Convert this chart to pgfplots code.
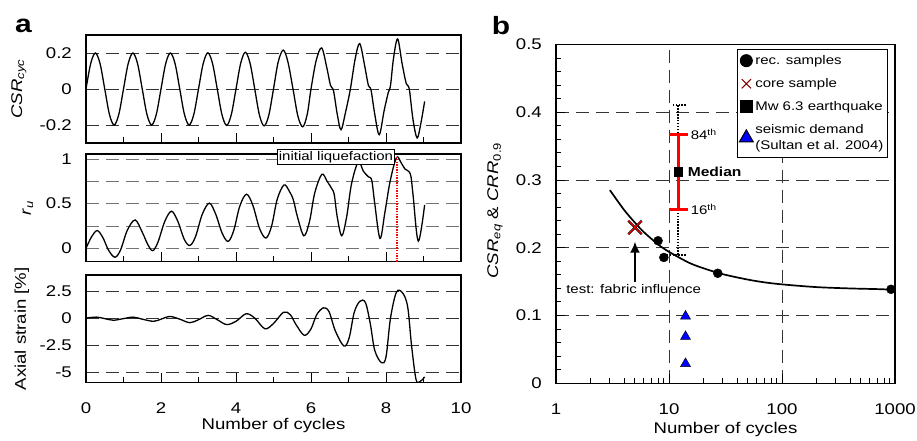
\documentclass[border=0pt]{standalone}
\usepackage{fontspec}
\setmainfont{Liberation Sans}[FakeStretch=1.2]
\usepackage{pgfplots}
\pgfplotsset{compat=1.18}
\usetikzlibrary{arrows.meta}
\tikzset{lab/.style={font=\fontsize{15.5}{17}\selectfont}}
\begin{document}
\begin{tikzpicture}
\useasboundingbox (0pt,0pt) rectangle (917pt,440pt);
\pgfplotsset{
  base/.style={scale only axis, anchor=south west,
    axis line style={line width=1.3pt}, tick style={black, line width=1pt},
    tick align=inside, clip mode=individual,
    /pgf/number format/assume math mode=true,
    ticklabel style={font=\fontsize{15.5}{17}\selectfont},
    yticklabel style={anchor=east, inner sep=0pt, xshift=-14pt},
    xticklabel style={anchor=north, inner sep=0pt, yshift=-20pt},
    grid style={dash pattern=on 13pt off 7pt, line width=0.8pt, black!80},
  },
  lp/.style={base, width=375pt, height=107.7pt, xmin=0, xmax=10,
    xtick={0,2,...,10}, minor xtick={1,3,...,9},
    major tick length=10pt, minor tick length=6pt,
    xtick pos=left, ytick style={draw=none}, ymajorgrids,
  },
}
% ---- top panel: CSR_cyc
\begin{axis}[lp, at={(86pt,297pt)}, height=108pt, ymin=-0.3, ymax=0.3,
  ytick={-0.2,0,0.2}, xticklabels={},
  every axis y label/.style={lab, at={(axis description cs:-0.179,0.5)}, rotate=90, anchor=center},
  ylabel={\textit{CSR}\textsubscript{\textit{cyc}}}]
\addplot[black, line width=1.3pt, smooth, tension=0.55] coordinates {
(0,0)(0.125,0.141)(0.25,0.2)(0.375,0.141)(0.5,0)(0.625,-0.141)(0.75,-0.2)(0.875,-0.141)
(1,0)(1.125,0.141)(1.25,0.2)(1.375,0.141)(1.5,0)(1.625,-0.141)(1.75,-0.2)(1.875,-0.141)
(2,0)(2.125,0.141)(2.25,0.2)(2.375,0.141)(2.5,0)(2.625,-0.141)(2.75,-0.2)(2.875,-0.141)
(3,0)(3.125,0.141)(3.25,0.201)(3.375,0.141)(3.5,0)(3.625,-0.142)(3.75,-0.202)(3.875,-0.142)
(4,0)(4.125,0.143)(4.25,0.204)(4.375,0.143)(4.5,0)(4.625,-0.145)(4.75,-0.205)(4.875,-0.145)
(5,0)(5.125,0.15)(5.26,0.216)(5.385,0.15)(5.52,0)(5.65,-0.15)(5.78,-0.21)(5.9,-0.14)
(6,0)(6.14,0.16)(6.285,0.228)(6.42,0.12)(6.52,0.02)(6.6,-0.01)(6.7,-0.14)(6.8,-0.226)(6.92,-0.13)
(7.05,0)(7.18,0.17)(7.30,0.252)(7.43,0.13)(7.53,0.02)(7.6,-0.005)(7.7,-0.14)(7.82,-0.254)(7.95,-0.12)
(8.06,-0.02)(8.12,0.02)(8.2,0.17)(8.31,0.278)(8.43,0.14)(8.54,0.03)(8.62,0)(8.72,-0.17)(8.83,-0.272)(8.93,-0.19)(9.03,-0.069)
};
\end{axis}
% ---- middle panel: r_u
\begin{axis}[lp, at={(86pt,178.3pt)}, ymin=-0.15, ymax=1.055,
  ytick={0,0.25,0.5,0.75,1}, yticklabels={0,,0.5,,1}, xticklabels={},
  grid style={dash pattern=on 13pt off 7pt, line width=0.8pt, black!55},
  every axis y label/.style={lab, at={(axis description cs:-0.155,0.5)}, rotate=90, anchor=center},
  ylabel={\textit{r}\textsubscript{\textit{u}}}]
\addplot[black, line width=1.3pt, smooth, tension=0.55] coordinates {
(0,0)(0.15,0.13)(0.30,0.198)(0.45,0.12)(0.6,-0.02)(0.77,-0.10)(0.92,-0.02)
(1.1,0.2)(1.31,0.317)(1.5,0.18)(1.65,0.04)(1.78,-0.027)(1.92,0.07)
(2.1,0.3)(2.28,0.415)(2.45,0.3)(2.62,0.1)(2.77,0.032)(2.92,0.13)
(3.1,0.38)(3.29,0.505)(3.46,0.38)(3.63,0.17)(3.79,0.077)(3.94,0.2)
(4.1,0.47)(4.28,0.605)(4.45,0.48)(4.63,0.22)(4.80,0.115)(4.95,0.25)
(5.1,0.55)(5.28,0.709)(5.42,0.64)(5.53,0.54)(5.64,0.35)(5.81,0.14)(5.96,0.3)
(6.1,0.62)(6.29,0.828)(6.43,0.75)(6.55,0.67)(6.62,0.6)(6.7,0.35)(6.82,0.14)(6.95,0.35)
(7.08,0.72)(7.26,0.965)(7.4,0.86)(7.53,0.80)(7.62,0.76)(7.7,0.5)(7.84,0.11)(7.97,0.4)
(8.11,0.75)(8.28,1.015)(8.4,0.96)(8.5,0.89)(8.65,0.83)(8.72,0.6)(8.86,0.08)(9.03,0.485)
};
\addplot[red, dash pattern=on 1.4pt off 1.2pt, line width=2pt] coordinates {(8.28,-0.15)(8.28,1.02)};
\end{axis}
% ---- bottom panel: axial strain
\begin{axis}[lp, at={(86pt,57.3pt)}, ymin=-6, ymax=4,
  ytick={-5,-2.5,0,2.5},
  every axis y label/.style={lab, at={(axis description cs:-0.171,0.5)}, rotate=90, anchor=center},
  every axis x label/.style={lab, at={(axis description cs:0.5,0)}, anchor=center, yshift=-43pt},
  ylabel={Axial strain [\%]}, xlabel={Number of cycles}]
\addplot[black, line width=1.3pt, smooth, tension=0.55] coordinates {
(0,0)(0.28,0.09)(0.5,-0.05)(0.73,-0.2)(1.0,-0.05)(1.26,0.09)(1.5,-0.1)(1.8,-0.3)
(2.0,-0.1)(2.24,0.15)(2.5,-0.1)(2.77,-0.43)(3.0,-0.15)(3.26,0.25)(3.5,-0.15)(3.75,-0.6)
(4.0,-0.3)(4.27,0.4)(4.5,0.0)(4.77,-0.99)(5.0,-0.5)(5.27,0.55)(5.45,0.3)(5.6,-0.6)(5.82,-1.6)
(6.0,-1.0)(6.15,0.3)(6.33,0.95)(6.48,0.6)(6.65,-1.2)(6.88,-2.6)(7.02,-1.8)
(7.15,0.5)(7.3,1.55)(7.45,1.45)(7.58,-0.5)(7.7,-3.0)(7.88,-4.15)(8.0,-3.6)
(8.12,0)(8.28,2.42)(8.45,2.3)(8.58,1.0)(8.68,-2.5)(8.8,-5.7)(8.9,-5.9)(9.0,-5.6)(9.03,-5.46)
};
\end{axis}
% ---- right panel
\begin{axis}[base, at={(556pt,56.7pt)}, width=339pt, height=338.8pt,
  xmode=log, xmin=1, xmax=1000, ymin=0, ymax=0.5,
  log ticks with fixed point, xticklabel style={/pgf/number format/1000 sep={}},
  ytick={0,0.1,0.2,0.3,0.4,0.5}, minor y tick num=4,
  major tick length=9pt, minor tick length=5pt, tick pos=left,
  xmajorgrids, ymajorgrids,
  every axis y label/.style={lab, at={(axis description cs:-0.18,0.51)}, rotate=90, anchor=center},
  every axis x label/.style={lab, at={(axis description cs:0.5,0)}, anchor=center, yshift=-46pt},
  ylabel={\textit{CSR}\textsubscript{\textit{eq}} \& \textit{CRR}\textsubscript{0.9}},
  xlabel={Number of cycles},
  legend style={at={(0.979,0.987)}, anchor=north east, draw=black, line width=1pt,
    font=\fontsize{12.5}{16}\selectfont, cells={anchor=west, align=left},
    row sep=8.5pt, inner ysep=4pt, inner xsep=2pt,
    /tikz/every even column/.append style={column sep=12pt}},
]
\addlegendimage{only marks, mark=*, black, mark size=6pt}
\addlegendentry{rec. samples}
\addlegendimage{only marks, mark=x, red!55!black, mark size=6.5pt, line width=1.1pt}
\addlegendentry{core sample}
\addlegendimage{only marks, mark=square*, black, mark size=6pt}
\addlegendentry{Mw 6.3 earthquake}
\addlegendimage{only marks, mark=triangle*, fill=blue, draw=black, mark size=8pt}
\addlegendentry{seismic demand\\(Sultan et al. 2004)}
% fitted curve
\addplot[black, line width=1.7pt, smooth, forget plot] coordinates {
(3,0.285)(4,0.256)(5,0.237)(6,0.223)(8,0.205)(10,0.194)(15,0.178)(20,0.170)(30,0.161)
(50,0.153)(70,0.149)(100,0.146)(200,0.142)(400,0.140)(700,0.139)(1000,0.138)};
% dotted range
\addplot[black, dash pattern=on 1.5pt off 1.4pt, line width=2pt, forget plot] coordinates {(10.8,0.41)(14.4,0.41)};
\addplot[black, dash pattern=on 1.5pt off 1.4pt, line width=2pt, forget plot] coordinates {(12.1,0.41)(12.1,0.19)};
\addplot[black, dash pattern=on 1.5pt off 1.4pt, line width=2pt, forget plot] coordinates {(9.0,0.19)(14.35,0.19)};
% red percentile bar
\addplot[red, line width=2.8pt, forget plot] coordinates {(12.1,0.2566)(12.1,0.3675)};
\addplot[red, line width=2.8pt, forget plot] coordinates {(10.0,0.3675)(14.6,0.3675)};
\addplot[red, line width=2.8pt, forget plot] coordinates {(10.0,0.2566)(14.6,0.2566)};
% median
\addplot[only marks, mark=square*, black, mark size=4.2pt, forget plot] coordinates {(12.1,0.3125)};
% rec samples
\addplot[only marks, mark=*, black, mark size=4.5pt, forget plot] coordinates {
(8.0,0.2104)(9.0,0.1857)(27,0.1624)(922,0.1387)};
% core sample
\addplot[only marks, mark=x, black, mark size=9.5pt, line width=2.3pt, forget plot] coordinates {(5.0,0.230)};
\addplot[only marks, mark=x, red, mark size=9.5pt, line width=1.1pt, forget plot] coordinates {(5.0,0.230)};
% seismic demand
\addplot[only marks, mark=triangle*, fill=blue, draw=black, mark size=5.8pt, forget plot] coordinates {
(14.0,0.099)(14.0,0.069)(14.0,0.029)};
\draw[-{Latex[length=11pt,width=10pt]}, line width=1.8pt] (axis cs:5,0.15) -- (axis cs:5,0.209);
\node[font=\fontsize{12.5}{15}\selectfont] at (axis cs:4.87,0.139) {test: fabric influence};
\node[anchor=west, inner sep=1pt, font=\fontsize{12.5}{15}\selectfont] at (axis cs:15.2,0.3675) {84\textsuperscript{th}};
\node[anchor=west, inner sep=1pt, font=\fontsize{12.5}{15}\selectfont] at (axis cs:15.2,0.2566) {16\textsuperscript{th}};
\node[anchor=west, inner sep=1pt, font=\bfseries\fontsize{13}{15}\selectfont] at (axis cs:14.3,0.3125) {Median};
\end{axis}
% label box and panel letters
\node[draw=black, fill=white, line width=1pt, inner sep=1.5pt, font=\fontsize{12.5}{15}\selectfont] at (336pt,283pt) {initial liquefaction};
\node[font=\bfseries\fontsize{25}{30}\selectfont] at (23.5pt,414pt) {a};
\node[font=\bfseries\fontsize{25}{30}\selectfont] at (501pt,414pt) {b};
\end{tikzpicture}
\end{document}
